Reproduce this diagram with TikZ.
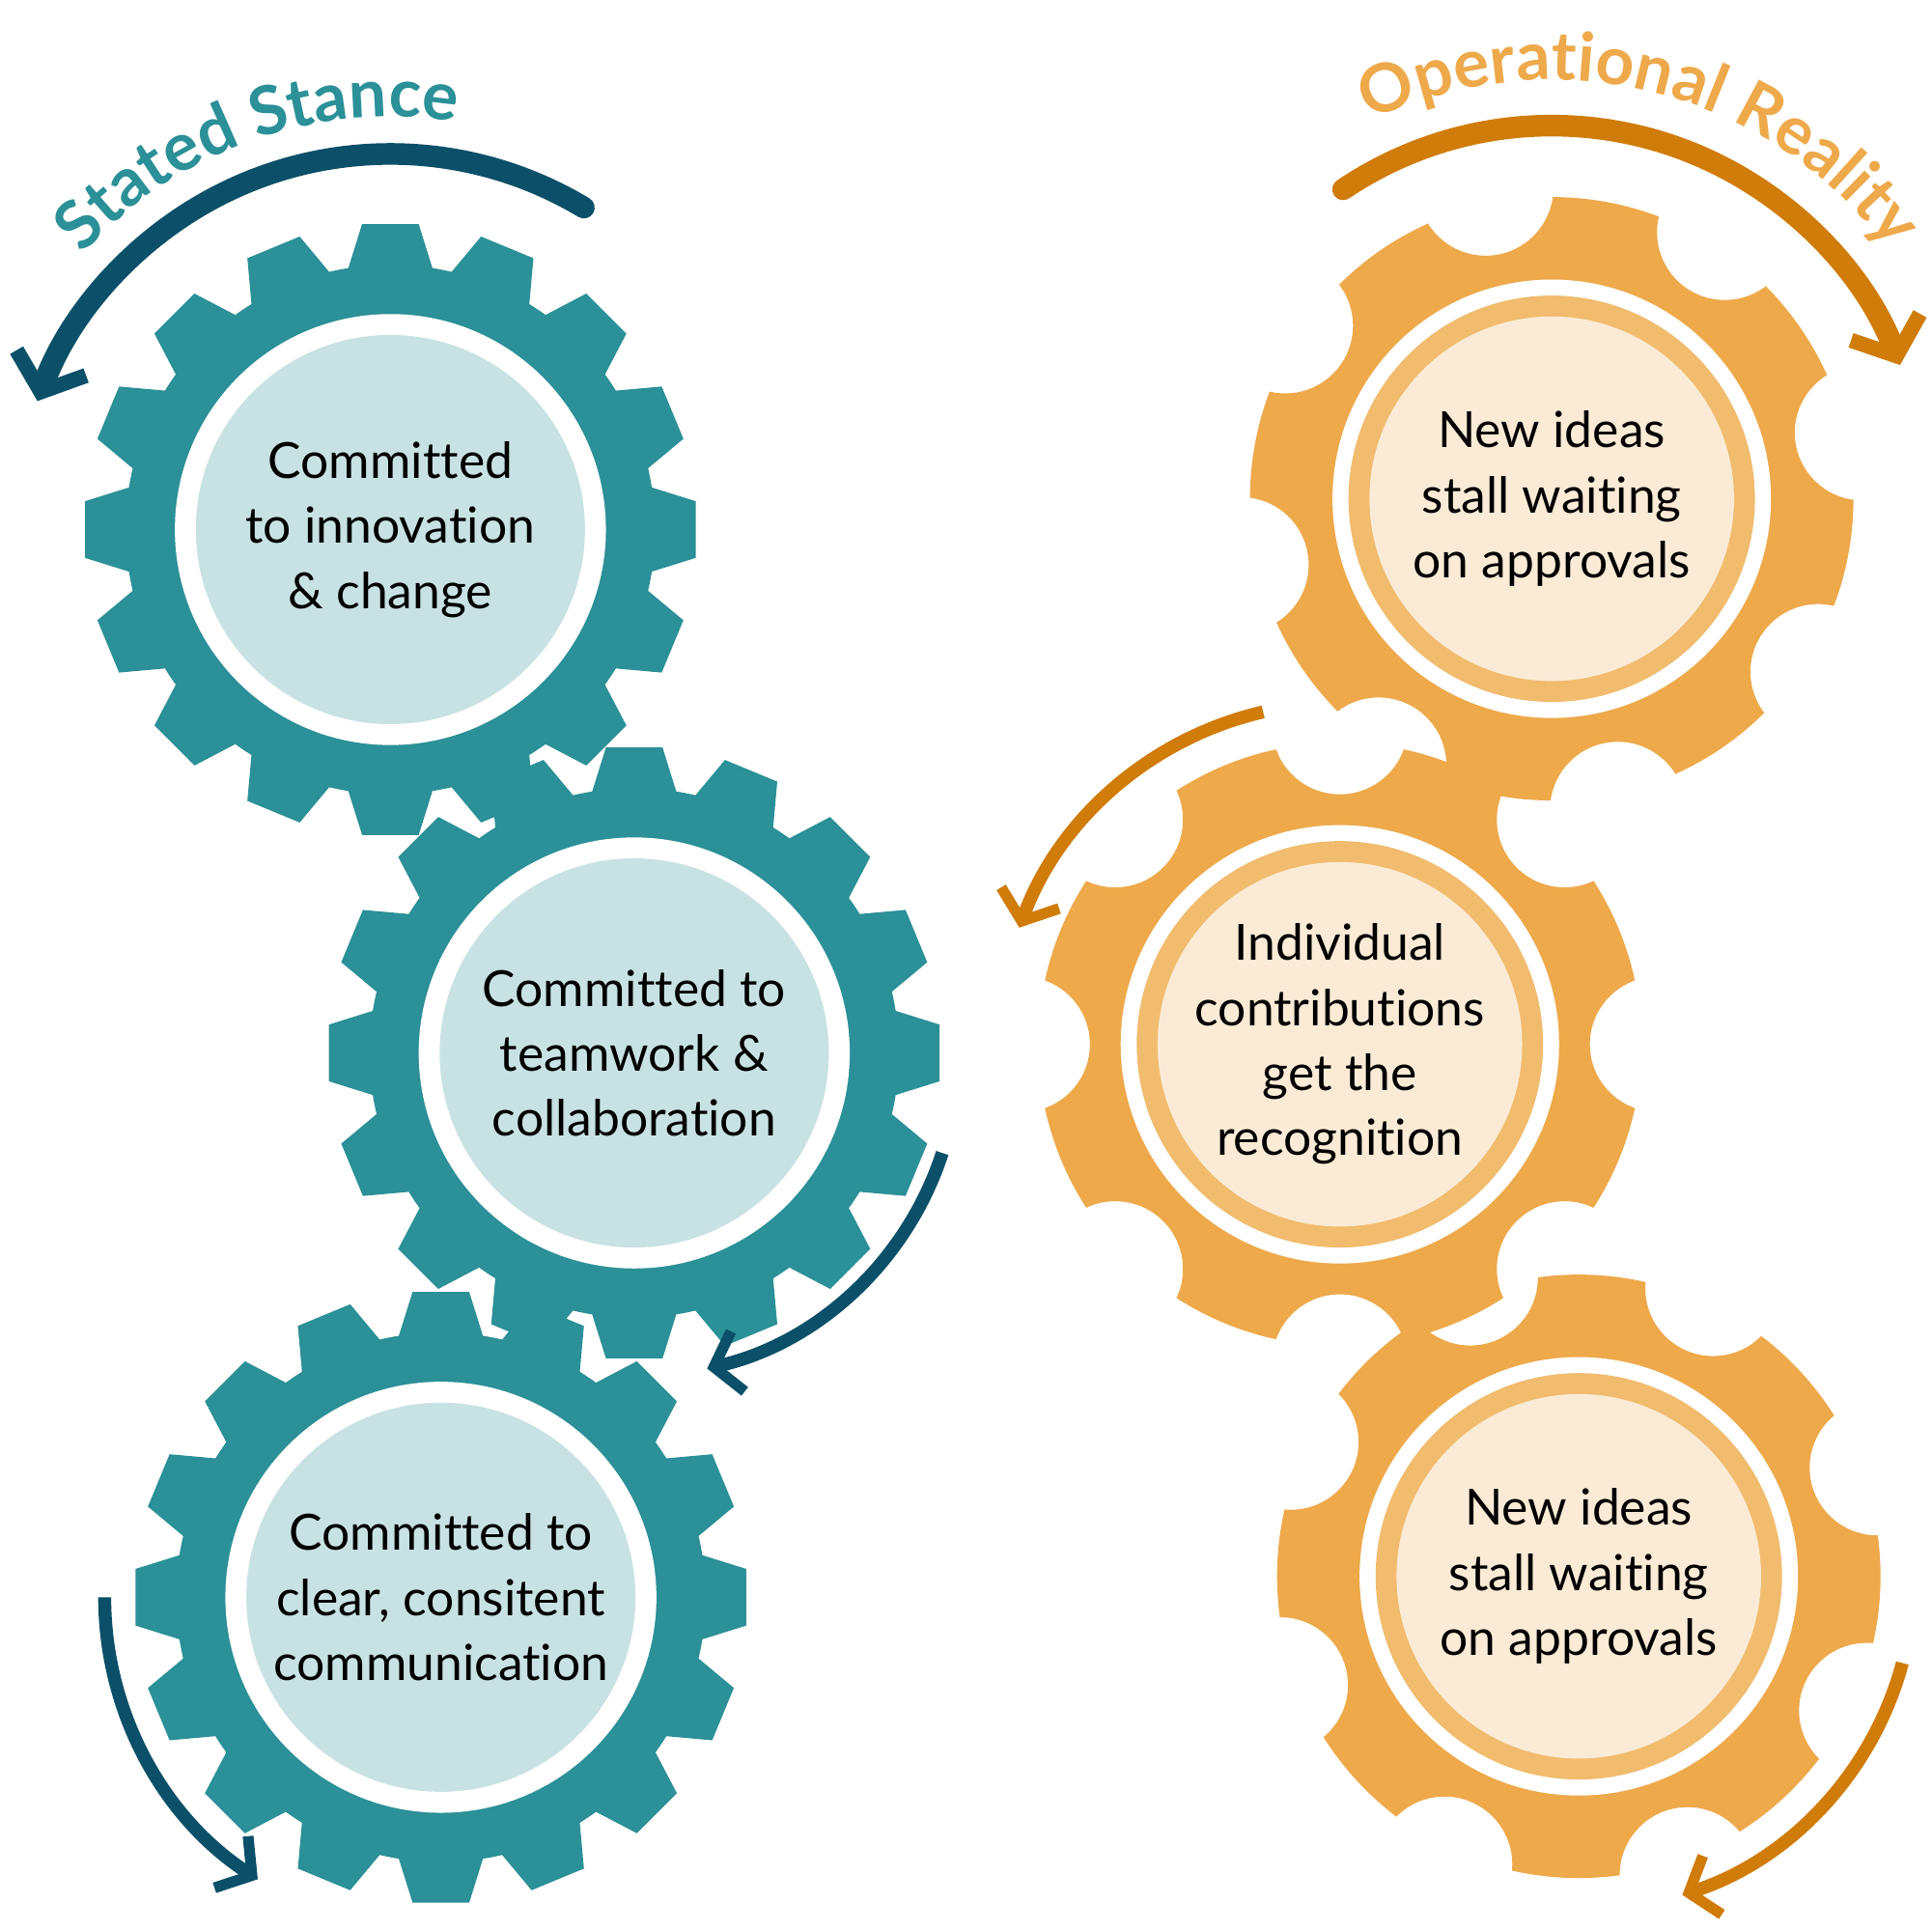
\documentclass[tikz,border=0pt]{standalone}
\usepackage{fontspec}
\setmainfont{Lato}[Ligatures={NoCommon,NoRequired,NoContextual}]
\usetikzlibrary{arrows.meta,decorations.text}
\definecolor{teal1}{HTML}{2B9097}
\definecolor{teallight}{HTML}{C8E2E3}
\definecolor{tealdark}{HTML}{0B5068}
\definecolor{orange1}{HTML}{EEA94B}
\definecolor{orangering}{HTML}{F1BC6E}
\definecolor{orangelight}{HTML}{FBEBD6}
\definecolor{orangedark}{HTML}{D07C0A}
\tikzset{
  gear text/.style={align=center, font=\fontsize{11.5}{15}\selectfont, text=black},
  big turn/.style={line width=5pt, line cap=round, -{Straight Barb[length=2.5mm,width=6mm,line width=3.5pt]}},
  turn/.style={line width=3pt, -{Straight Barb[length=2mm,width=5mm,line width=2.5pt]}},
}
% teal gear with square teeth
\newcommand{\tealgear}[3]{%
  \fill[teal1] (#1) circle (215);
  \foreach \a in {0,22.5,...,337.5}
    \fill[teal1, shift={(#1)}, rotate=\a] (-38,200)--(-23,248)--(23,248)--(38,200)--cycle;
  \fill[white] (#1) circle (175);
  \fill[teallight] (#1) circle (158);
  \node[gear text] (#2) at (#1) {#3};
}
% orange gear with round notches
\newcommand{\orangegear}[4]{%
  \begin{scope}[even odd rule]
    \clip (#1) circle (320)
      \foreach \a in {0,45,...,315} { ([shift={(\a+#4:258)}]#1) circle (55) };
    \fill[orange1] (#1) circle (245);
  \end{scope}
  \fill[white] (#1) circle (178);
  \fill[orangering] (#1) circle (165);
  \fill[orangelight] (#1) circle (148);
  \node[gear text] (#2) at (#1) {#3};
}
\begin{document}
\begin{tikzpicture}[x=0.01cm, y=0.01cm]
\useasboundingbox (0,0) rectangle (1568,1568);

% stated stance
\tealgear{317,1138}{inno}{Committed\\to innovation\\\& change}
\tealgear{515,713}{team}{Committed to\\teamwork \&\\collaboration}
\tealgear{358,271}{comm}{Committed to\\clear, consitent\\communication}

% operational reality
\orangegear{1260,1163}{ideasA}{New ideas\\stall waiting\\on approvals}{12}
\orangegear{1088,720}{indiv}{Individual\\contributions\\get the\\recognition}{0}
\orangegear{1282,288}{ideasB}{New ideas\\stall waiting\\on approvals}{20}

% arrows
\coordinate (c1) at (317,1138);
\draw[tealdark, big turn] ([shift={(59:305)}]c1) arc (59:160:305);
\coordinate (c2) at (515,713);
\draw[tealdark, turn] ([shift={(-18:263)}]c2) arc (-18:-77:263);
\coordinate (c3) at (358,271);
\draw[tealdark, turn] ([shift={(180:273)}]c3) arc (180:237:273);
\coordinate (o1) at (1260,1163);
\draw[orangedark, big turn] ([shift={(124:303)}]o1) arc (124:21:303);
\coordinate (o2) at (1088,720);
\draw[orangedark, turn] ([shift={(103:277)}]o2) arc (103:160:277);
\coordinate (o3) at (1282,288);
\draw[orangedark, turn] ([shift={(-15:272)}]o3) arc (-15:-72:272);

% titles
\path[decorate, decoration={text along path, text align=center,
  text={|\fontsize{15.5}{15.5}\selectfont\bfseries\color{teal1}|Stated Stance}}]
  ([shift={(141:335)}]c1) arc (141:78:335);
\path[decorate, decoration={text along path, text align=center,
  text={|\fontsize{15.5}{15.5}\selectfont\bfseries\color{orange1}|Operational Reality}}]
  ([shift={(118:340)}]o1) arc (118:34:340);
\end{tikzpicture}
\end{document}
